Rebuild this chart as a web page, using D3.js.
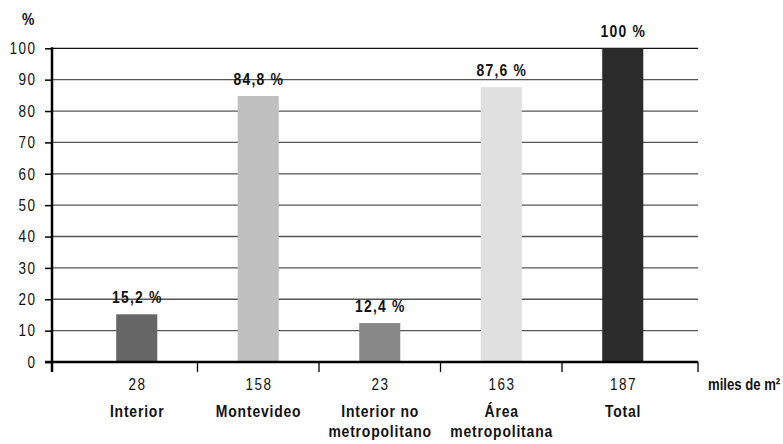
<!DOCTYPE html>
<html>
<head>
<meta charset="utf-8">
<script src="https://cdn.jsdelivr.net/npm/d3@7"></script>
<style>
  html, body { margin: 0; padding: 0; background: #fff; }
  svg { display: block; font-family: "Liberation Sans", Arial, sans-serif; }
</style>
</head>
<body>
<svg id="chart" width="783" height="444"></svg>
<script>
// Superficie por zona: participación (%) y miles de m²
const categories = ["Interior", "Montevideo", "Interior no metropolitano", "Área metropolitana", "Total"];
const nameLines = [["Interior"], ["Montevideo"], ["Interior no", "metropolitano"], ["Área", "metropolitana"], ["Total"]];
const shares = [15.2, 84.8, 12.4, 87.6, 100];
const shareLabels = ["15,2 %", "84,8 %", "12,4 %", "87,6 %", "100 %"];
const areas = [28, 158, 23, 163, 187];
const barColors = ["#666666", "#c0c0c0", "#888888", "#e0e0e0", "#2b2b2b"];
const yTicks = [0, 10, 20, 30, 40, 50, 60, 70, 80, 90, 100];

const svg = d3.select("#chart");
const narrow = 0.82; // horizontal squeeze for a condensed typeface look

// position a text at (px, py) with the condensed squeeze applied
function place(sel, px, py) {
  sel.attr("transform", (d, i) => {
    const X = typeof px === "function" ? px(d, i) : px;
    const Y = typeof py === "function" ? py(d, i) : py;
    return `translate(${X},${Y}) scale(${narrow},1)`;
  });
}

const plotLeft = 52, plotRight = 698;
const y = d3.scaleLinear().domain([0, 100]).range([362, 48.3]);
const x = d3.scaleBand()
  .domain(categories)
  .range([76, 683.5])
  .paddingInner(0.662)
  .paddingOuter(0.331);

// horizontal gridlines
svg.append("g")
  .selectAll("line")
  .data(yTicks.filter(d => d > 0))
  .join("line")
  .attr("x1", plotLeft).attr("x2", plotRight)
  .attr("y1", d => y(d)).attr("y2", d => y(d))
  .attr("stroke", d => d === 100 ? "#111" : "#555")
  .attr("stroke-width", 1.3);

// bars
svg.append("g")
  .selectAll("rect")
  .data(categories)
  .join("rect")
  .attr("x", d => x(d))
  .attr("width", x.bandwidth())
  .attr("y", (d, i) => y(shares[i]))
  .attr("height", (d, i) => y(0) - y(shares[i]))
  .attr("fill", (d, i) => barColors[i]);

// value labels
svg.append("g")
  .selectAll("text")
  .data(categories)
  .join("text")
  .call(place, d => x(d) + x.bandwidth() / 2 + 0.6, (d, i) => y(shares[i]) - 11)
  .attr("text-anchor", "middle")
  .attr("font-weight", "bold")
  .attr("font-size", 17)
  .attr("letter-spacing", 1.5)
  .attr("fill", "#111")
  .text((d, i) => shareLabels[i]);

// y axis
const yAxis = d3.axisLeft(y).tickValues(yTicks).tickSize(7).tickPadding(10);
const gy = svg.append("g").attr("transform", `translate(${plotLeft},0)`).call(yAxis);
gy.select(".domain").remove();
gy.selectAll(".tick line").attr("stroke", "#000").attr("stroke-width", 1.5);
gy.selectAll(".tick text")
  .attr("x", null)
  .attr("transform", `translate(-15.5,0) scale(${narrow},1)`)
  .attr("font-size", 16.5)
  .attr("letter-spacing", 1.8)
  .attr("fill", "#111")
  .style("font-family", "inherit");
svg.append("line")
  .attr("x1", plotLeft).attr("x2", plotLeft)
  .attr("y1", y(100) - 1).attr("y2", y(0) + 10)
  .attr("stroke", "#000").attr("stroke-width", 2.5);

// x axis line and category boundary ticks
svg.append("line")
  .attr("x1", plotLeft - 7).attr("x2", plotRight)
  .attr("y1", y(0)).attr("y2", y(0))
  .attr("stroke", "#000").attr("stroke-width", 2.5);
const bounds = categories.slice(1).map(d => x(d) - x.step() * x.paddingInner() / 2);
bounds.push(plotRight);
svg.append("g")
  .selectAll("line")
  .data(bounds)
  .join("line")
  .attr("x1", d => d).attr("x2", d => d)
  .attr("y1", y(0)).attr("y2", y(0) + 10)
  .attr("stroke", "#000").attr("stroke-width", 1.3);

// category labels: area figure then name
const catG = svg.append("g")
  .selectAll("g")
  .data(categories)
  .join("g")
  .attr("transform", d => `translate(${x(d) + x.bandwidth() / 2},0)`);
catG.append("text")
  .call(place, 0.7, 390)
  .attr("text-anchor", "middle")
  .attr("font-size", 16.5)
  .attr("letter-spacing", 1.8)
  .attr("fill", "#111")
  .text((d, i) => areas[i]);
catG.each(function (d, i) {
  d3.select(this).selectAll("text.name")
    .data(nameLines[i])
    .join("text")
    .attr("class", "name")
    .call(place, 0.4, (t, j) => 417 + j * 20)
    .attr("text-anchor", "middle")
    .attr("font-weight", "bold")
    .attr("font-size", 17)
    .attr("letter-spacing", 1)
    .attr("fill", "#111")
    .text(t => t);
});

// unit labels
svg.append("text")
  .call(place, 708, 390)
  .attr("font-weight", "bold")
  .attr("font-size", 16)
  .attr("fill", "#111")
  .text("miles de m²");
svg.append("text")
  .call(place, 22, 25)
  .attr("font-weight", "bold")
  .attr("font-size", 17)
  .attr("fill", "#111")
  .text("%");
</script>
</body>
</html>
